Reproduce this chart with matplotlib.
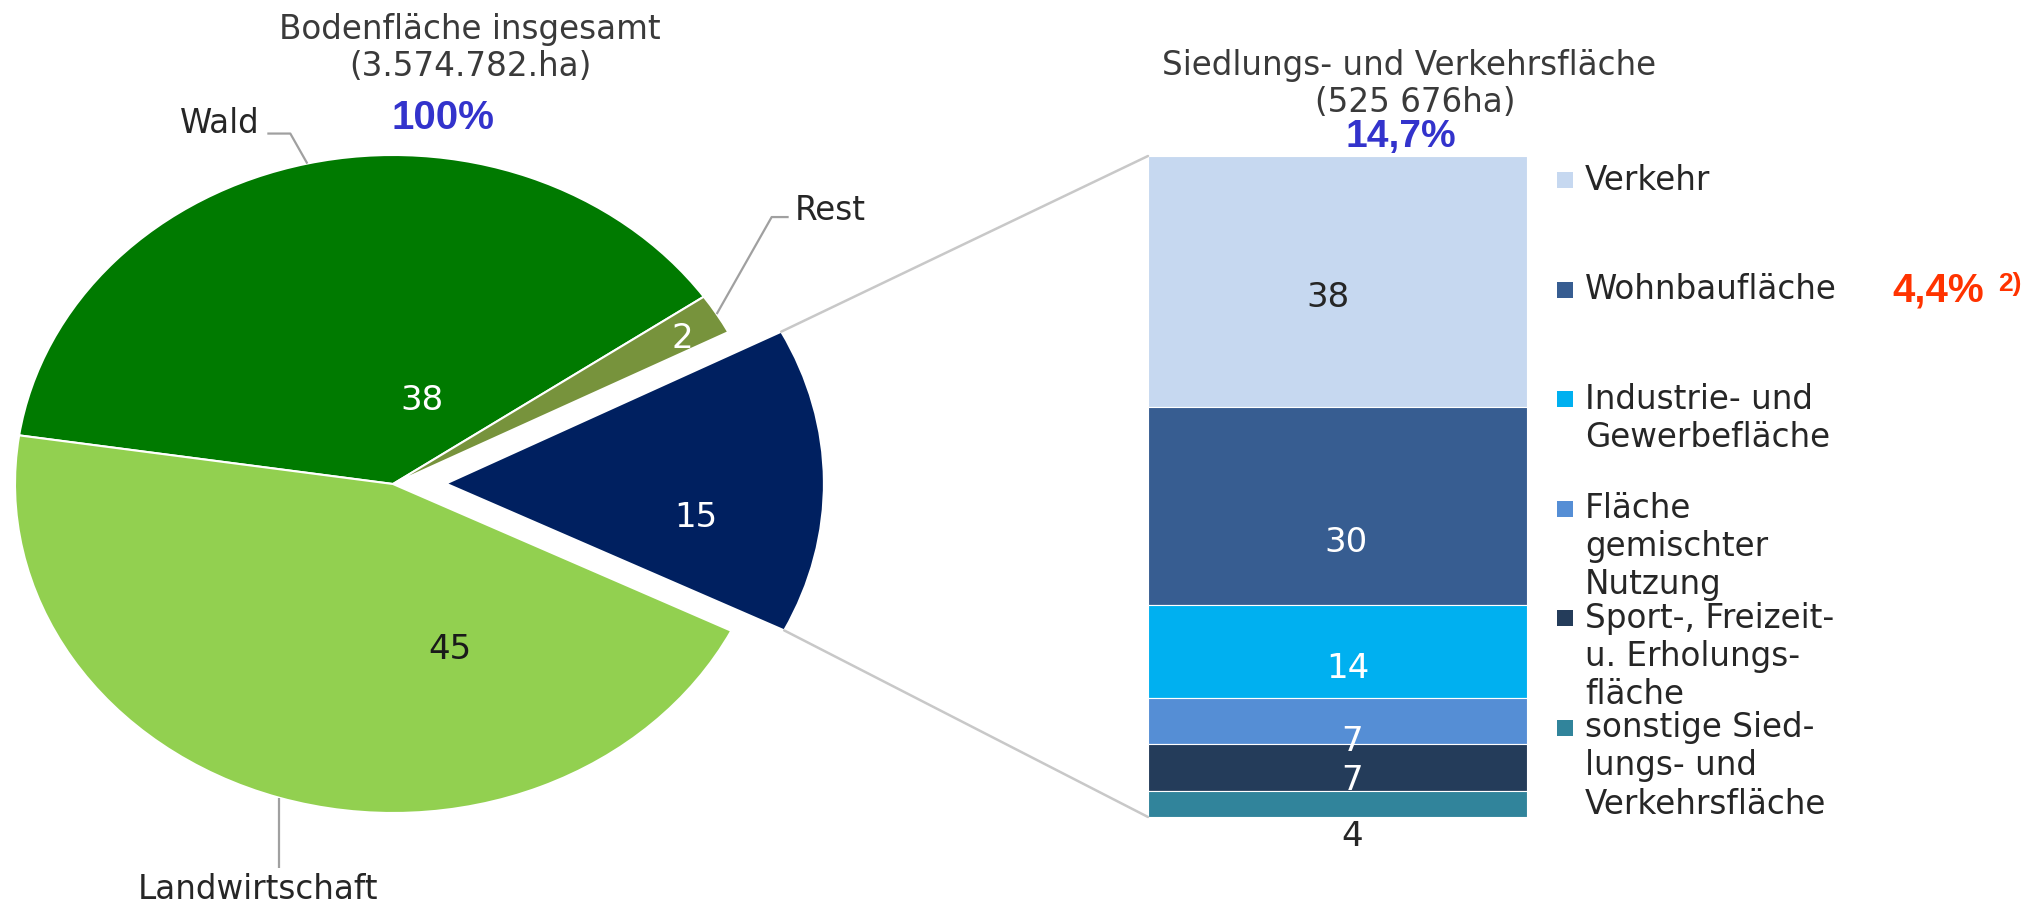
import matplotlib
matplotlib.use("Agg")
import matplotlib.pyplot as plt
from matplotlib.patches import Rectangle, ConnectionPatch
import numpy as np

# ---------------- data ----------------
pie_labels = ["Wald", "Rest", "Siedlungs- und Verkehrsfläche", "Landwirtschaft"]
pie_values = [38, 2, 15, 45]
pie_colors = ["#007A00", "#77933C", "#002060", "#92D050"]
pie_text_colors = ["white", "white", "white", "#1a1a1a"]

bar_categories = ["Verkehr", "Wohnbaufläche", "Industrie- und Gewerbefläche",
                  "Fläche gemischter Nutzung", "Sport-, Freizeit- u. Erholungsfläche",
                  "sonstige Siedlungs- und Verkehrsfläche"]
bar_values = [38, 30, 14, 7, 7, 4]
bar_colors = ["#C6D8F0", "#375D91", "#00B0F0", "#558ED5", "#243C5A", "#31849B"]
bar_text_colors = ["#262626", "white", "white", "white", "white", "#262626"]
legend_lines = [["Verkehr"], ["Wohnbaufläche"], ["Industrie- und", "Gewerbefläche"],
                ["Fläche", "gemischter", "Nutzung"],
                ["Sport-, Freizeit-", "u. Erholungs-", "fläche"],
                ["sonstige Sied-", "lungs- und", "Verkehrsfläche"]]

title_left = ["Bodenfläche insgesamt", "(3.574.782.ha)"]
title_right = ["Siedlungs- und Verkehrsfläche", "(525 676ha)"]
share_total = "100%"
share_siedlung = "14,7%"
share_wohnbau = "4,4%"
footnote_mark = "2)"

# ---------------- layout ----------------
W, H, DPI = 2042, 908, 100
fig = plt.figure(figsize=(W / DPI, H / DPI), dpi=DPI)
fig.patch.set_facecolor("white")

def fx(x):
    return x / W

def fy(y):
    return 1 - y / H

TXT = 23.5
NUM = 24.5
FAM = "DejaVu Sans"
BOLDFAM = ["Liberation Sans", "DejaVu Sans"]
TCOL = "#262626"
BLUE = "#3333CC"
RED = "#FF3300"
LINEC = "#A0A0A0"
CONNC = "#C8C8C8"

# ---------------- pie ----------------
CX, CY, RX, RY = 393, 484, 378, 329
ax_pie = fig.add_axes([0, 0, 1, 1])
wedges, _ = ax_pie.pie(pie_values, colors=pie_colors, startangle=171.5,
                       counterclock=False, explode=[0, 0, 0.14, 0],
                       wedgeprops=dict(edgecolor="white", linewidth=1.5))
ax_pie.set_aspect("auto")
ax_pie.set_xlim(-CX / RX, (W - CX) / RX)
ax_pie.set_ylim(-(H - CY) / RY, CY / RY)
ax_pie.axis("off")

def d2px(x, y):
    return CX + x * RX, CY - y * RY

def px2d(x, y):
    return (x - CX) / RX, (CY - y) / RY

# inner value labels (position in pie-data units)
inner_pos = [(0.077, 0.255), (0.765, 0.441), (0.80, -0.103), (0.150, -0.502)]
for v, (x, y), c in zip(pie_values, inner_pos, pie_text_colors):
    ax_pie.text(x, y, str(v), ha="center", va="center", fontsize=NUM,
                color=c, family=FAM)

# leader lines + category labels
leader = {
    0: dict(path=[(-17, -30), (-40, -30)], text=(-48, -40), ha="right"),
    1: dict(path=[(55, -97), (72, -97)], text=(78, -104), ha="left"),
    3: dict(path=[(0, 70)], text=(-21, 92), ha="center"),
}
for i, spec in leader.items():
    w = wedges[i]
    m = np.deg2rad((w.theta1 + w.theta2) / 2)
    ex, ey = d2px(w.center[0] + np.cos(m) * w.r, w.center[1] + np.sin(m) * w.r)
    pts = [(ex, ey)] + [(ex + dx, ey + dy) for dx, dy in spec["path"]]
    xs, ys = zip(*[px2d(*p) for p in pts])
    ax_pie.plot(xs, ys, color=LINEC, lw=1.6, solid_capstyle="butt")
    tx, ty = px2d(ex + spec["text"][0], ey + spec["text"][1])
    ax_pie.text(tx, ty, pie_labels[i], ha=spec["ha"], va="center",
                fontsize=TXT, color=TCOL, family=FAM)

# ---------------- stacked bar ----------------
BX0, BX1, BY0, BY1 = 1148, 1527, 156, 817
ax_bar = fig.add_axes([fx(BX0), fy(BY1), (BX1 - BX0) / W, (BY1 - BY0) / H])
total = sum(bar_values)
bottoms = []
b = 0
for v in reversed(bar_values):
    bottoms.append(b)
    b += v
bottoms = bottoms[::-1]
for v, bt, c in zip(bar_values, bottoms, bar_colors):
    ax_bar.bar(0, v, bottom=bt, width=1.0, color=c, edgecolor="white",
               linewidth=0.8)
ax_bar.set_xlim(-0.5, 0.5)
ax_bar.set_ylim(0, total)
ax_bar.axis("off")

# value labels (offsets in px: right, down)
lab_off = [(-10, 16), (8, 36), (10, 17), (15, 20), (15, 13)]
pt = 72 / DPI
for k, (v, bt, c) in enumerate(zip(bar_values, bottoms, bar_text_colors)):
    if k < len(lab_off):
        dx, dy = lab_off[k]
        ax_bar.annotate(str(v), xy=(0, bt + v / 2), xytext=(dx * pt, -dy * pt),
                        textcoords="offset points", ha="center", va="center",
                        fontsize=NUM, color=c, family=FAM)
    else:
        ax_bar.annotate(str(v), xy=(0, 0), xytext=(15 * pt, -20 * pt),
                        textcoords="offset points", ha="center", va="center",
                        fontsize=NUM, color=c, family=FAM)

# connector lines from the exploded wedge to the bar
nw = wedges[2]
for ang, yb in ((nw.theta2, total), (nw.theta1, 0)):
    a = np.deg2rad(ang)
    p = (nw.center[0] + nw.r * np.cos(a), nw.center[1] + nw.r * np.sin(a))
    con = ConnectionPatch(xyA=p, coordsA=ax_pie.transData,
                          xyB=(-0.5, yb), coordsB=ax_bar.transData,
                          color=CONNC, lw=1.8)
    fig.add_artist(con)

# ---------------- legend ----------------
LEG_Y0, LEG_DY, LINE_DY = 180, 109.6, 38
for i, lines in enumerate(legend_lines):
    y0 = LEG_Y0 + LEG_DY * i
    fig.add_artist(Rectangle((fx(1557), fy(y0 + 8)), 16 / W, 16 / H,
                             transform=fig.transFigure, color=bar_colors[i],
                             lw=0))
    for j, line in enumerate(lines):
        fig.text(fx(1585), fy(y0 + LINE_DY * j), line, ha="left", va="center",
                 fontsize=TXT, color=TCOL, family=FAM)

# ---------------- titles & highlights ----------------
fig.text(fx(470), fy(29), title_left[0], ha="center", va="center",
         fontsize=TXT, color="#3a3a3a", family=FAM)
fig.text(fx(470), fy(67), title_left[1], ha="center", va="center",
         fontsize=TXT, color="#3a3a3a", family=FAM)
fig.text(fx(1409), fy(66), title_right[0], ha="center", va="center",
         fontsize=TXT, color="#3a3a3a", family=FAM)
fig.text(fx(1415), fy(102), title_right[1], ha="center", va="center",
         fontsize=TXT, color="#3a3a3a", family=FAM)

fig.text(fx(443), fy(118), share_total, ha="center", va="center",
         fontsize=29, color=BLUE, family=BOLDFAM, weight="bold")
fig.text(fx(1401), fy(137), share_siedlung, ha="center", va="center",
         fontsize=28, color=BLUE, family=BOLDFAM, weight="bold")
fig.text(fx(1892), fy(291), share_wohnbau, ha="left", va="center",
         fontsize=29, color=RED, family=BOLDFAM, weight="bold")
fig.text(fx(1998), fy(284), footnote_mark, ha="left", va="center",
         fontsize=19, color=RED, family=BOLDFAM, weight="bold")

fig.savefig("out.png", dpi=DPI, facecolor="white")
